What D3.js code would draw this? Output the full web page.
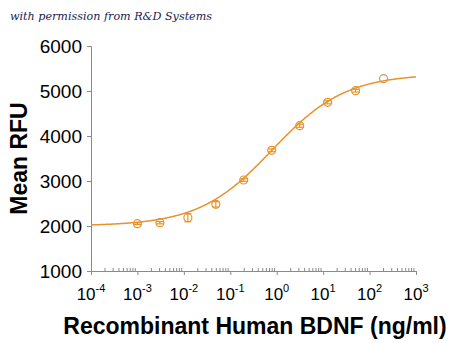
<!DOCTYPE html>
<html>
<head>
<meta charset="utf-8">
<script src="https://cdn.jsdelivr.net/npm/d3@7"></script>
<style>
  html, body { margin: 0; padding: 0; background: #fff; }
  svg { display: block; }
</style>
</head>
<body>
<svg id="chart" width="450" height="343"></svg>
<script>
// ---- data ----
const concentrations = [0.001, 0.00305, 0.0122, 0.0488, 0.195, 0.781, 3.125, 12.5, 50, 200];
const meanRFU        = [2051, 2073, 2184, 2482, 3022, 3682, 4229, 4749, 5007, 5273];
const errorRFU       = [20, 25, 90, 60, 30, 30, 35, 35, 30, 0];
const yTicks = [1000, 2000, 3000, 4000, 5000, 6000];
const xTickExponents = [-4, -3, -2, -1, 0, 1, 2, 3];
// 4-parameter logistic fit shown as the curve
const fitBottom = 2000, fitTop = 5380, fitEC50 = 0.8, fitHill = 0.55;

const title = "Recombinant Human BDNF (ng/ml)";
const yTitle = "Mean RFU";
const note = "with permission from R&D Systems";

// ---- drawing ----
const svg = d3.select("#chart");
const orange = "#E8922A";
const axisColor = "#8a8a8a";
const font = "'Liberation Sans', Arial, sans-serif";

const x = d3.scaleLog().domain([1e-4, 1e3]).range([91, 416]);
const y = d3.scaleLinear().domain([1000, 6000]).range([271, 46]);

// watermark
svg.append("text")
  .attr("x", 10).attr("y", 20)
  .attr("font-family", "'DejaVu Serif', 'Liberation Serif', serif")
  .attr("font-style", "italic")
  .attr("font-size", 11)
  .attr("fill", "#1d2150")
  .attr("textLength", 202)
  .attr("lengthAdjust", "spacingAndGlyphs")
  .text(note);

// y axis
const yAxis = svg.append("g")
  .attr("transform", `translate(${x.range()[0]},0)`)
  .call(d3.axisLeft(y).tickValues(yTicks).tickSize(4).tickPadding(5).tickFormat(d3.format("d")));
yAxis.select(".domain").attr("stroke", axisColor);
yAxis.selectAll(".tick line").attr("stroke", axisColor);
yAxis.selectAll(".tick text")
  .attr("font-family", font).attr("font-size", 19).attr("fill", "#000")
  .attr("dy", "0.36em");

// x axis (major ticks)
const majorVals = xTickExponents.map(e => Math.pow(10, e));
const xAxis = svg.append("g")
  .attr("transform", `translate(0,${y.range()[0]})`)
  .call(d3.axisBottom(x).tickValues(majorVals).tickSize(4).tickSizeOuter(0).tickFormat(() => ""));
xAxis.select(".domain").attr("stroke", axisColor);
xAxis.selectAll(".tick line").attr("stroke", axisColor);

// minor ticks (inward)
const minorVals = [];
xTickExponents.slice(0, -1).forEach(e => {
  for (let m = 2; m <= 9; m++) minorVals.push(m * Math.pow(10, e));
});
svg.append("g")
  .selectAll("line").data(minorVals).join("line")
  .attr("x1", d => x(d)).attr("x2", d => x(d))
  .attr("y1", y.range()[0]).attr("y2", y.range()[0] - 3)
  .attr("stroke", axisColor).attr("stroke-width", 1);

// x tick labels with superscripts
const xl = svg.append("g");
xTickExponents.forEach(e => {
  const t = xl.append("text")
    .attr("x", x(Math.pow(10, e)))
    .attr("y", 300)
    .attr("text-anchor", "middle")
    .attr("font-family", font)
    .attr("font-size", 17)
    .attr("fill", "#000");
  t.append("tspan").text("10");
  t.append("tspan").attr("font-size", 11).attr("dy", -8).text(String(e));
});

// axis titles
svg.append("text")
  .attr("x", 255).attr("y", 334)
  .attr("text-anchor", "middle")
  .attr("font-family", font).attr("font-weight", "bold").attr("font-size", 23)
  .attr("fill", "#000")
  .text(title);

svg.append("text")
  .attr("transform", `translate(27,${(y.range()[0] + y.range()[1]) / 2}) rotate(-90)`)
  .attr("text-anchor", "middle")
  .attr("font-family", font).attr("font-weight", "bold").attr("font-size", 23)
  .attr("fill", "#000")
  .text(yTitle);

// fitted curve
const fit = c => fitBottom + (fitTop - fitBottom) / (1 + Math.pow(fitEC50 / c, fitHill));
const curveX = d3.range(-4, 3.0001, 0.02).map(e => Math.pow(10, e));
svg.append("path")
  .datum(curveX)
  .attr("fill", "none")
  .attr("stroke", orange)
  .attr("stroke-width", 1.5)
  .attr("d", d3.line().x(d => x(d)).y(d => y(fit(d))).curve(d3.curveMonotoneX));

// error bars
const pts = concentrations.map((c, i) => ({ c, v: meanRFU[i], e: errorRFU[i] }));
const eb = svg.append("g").attr("stroke", orange).attr("stroke-width", 1.2);
pts.filter(d => d.e > 0).forEach(d => {
  const cx = x(d.c);
  eb.append("line").attr("x1", cx).attr("x2", cx).attr("y1", y(d.v - d.e)).attr("y2", y(d.v + d.e));
  eb.append("line").attr("x1", cx - 3.5).attr("x2", cx + 3.5).attr("y1", y(d.v - d.e)).attr("y2", y(d.v - d.e));
  eb.append("line").attr("x1", cx - 3.5).attr("x2", cx + 3.5).attr("y1", y(d.v + d.e)).attr("y2", y(d.v + d.e));
});

// markers
svg.append("g").selectAll("circle").data(pts).join("circle")
  .attr("cx", d => x(d.c)).attr("cy", d => y(d.v)).attr("r", 4)
  .attr("fill", "none")
  .attr("stroke", (d, i) => i === pts.length - 1 ? "#C99A5E" : orange)
  .attr("stroke-width", 1.2);
</script>
</body>
</html>
